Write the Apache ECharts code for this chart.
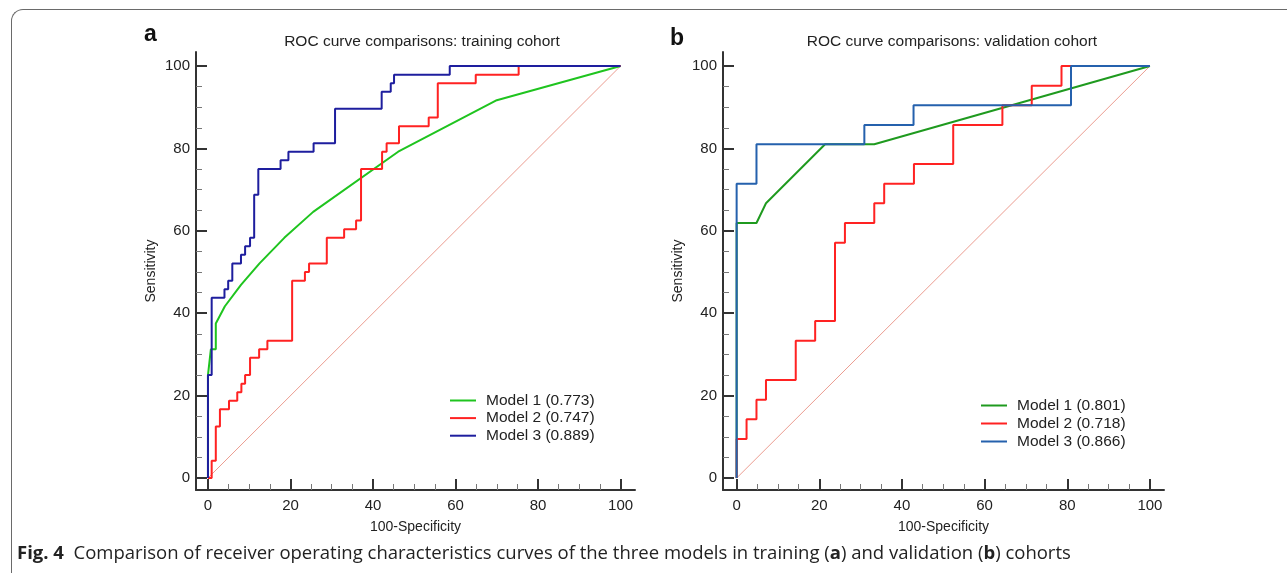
<!DOCTYPE html>
<html>
<head>
<meta charset="utf-8">
<script src="https://cdn.jsdelivr.net/npm/echarts@6/dist/echarts.min.js"></script>
<style>
  html, body { margin: 0; padding: 0; background: #fff; }
  #frame {
    position: absolute; left: 11px; top: 9px; width: 1320px; height: 620px;
    border-left: 1.5px solid #6a6a6a; border-top: 1.5px solid #6a6a6a;
    border-top-left-radius: 12px;
  }
  #chart { position: absolute; left: 0; top: 0; width: 1287px; height: 573px; }
  #caption {
    position: absolute; left: 17px; top: 539px; white-space: nowrap;
    font-family: "Open Sans", "Noto Sans", sans-serif; font-size: 18.5px; color: #222;
  }
</style>
</head>
<body>
<div id="frame"></div>
<div id="chart"></div>
<div id="caption"><b>Fig. 4</b>&nbsp; Comparison of receiver operating characteristics curves of the three models in training (<b>a</b>) and validation (<b>b</b>) cohorts</div>
<script>
// 刻度
const majorTicks = [0, 20, 40, 60, 80, 100];
const minorTicks = [5, 10, 15, 25, 30, 35, 45, 50, 55, 65, 70, 75, 85, 90, 95];
const diagX = [0, 100];
const diagY = [0, 100];

// 训练集 (a)
const trainNames = ["Model 1 (0.773)", "Model 2 (0.747)", "Model 3 (0.889)"];
const trainM1X = [0, 0, 0.7, 1.9, 1.9, 4.1, 8.0, 12.5, 18.5, 25.5, 46.1, 70.0, 100];
const trainM1Y = [0, 25, 31.25, 31.25, 37.5, 41.7, 46.9, 52.1, 58.3, 64.6, 79.2, 91.7, 100];
const trainM2X = [0, 0.9, 1.9, 2.9, 5.1, 7.1, 8.1, 9.0, 10.2, 12.4, 14.4, 20.4, 23.5, 24.5, 28.8, 33.0, 35.9, 37.1, 42.2, 43.3, 46.3, 53.5, 55.7, 64.9, 75.3, 100];
const trainM2Y = [0, 4.2, 12.5, 16.7, 18.75, 20.8, 22.9, 25, 29.2, 31.25, 33.3, 47.9, 50, 52.1, 58.3, 60.4, 62.5, 75, 79.2, 81.25, 85.4, 87.5, 95.8, 97.9, 100, 100];
const trainM3X = [0, 0, 0.9, 4.0, 4.9, 5.9, 8.0, 9.0, 10.2, 11.2, 12.2, 17.6, 19.5, 25.6, 30.8, 42.1, 44.3, 45.1, 58.6, 100];
const trainM3Y = [0, 25, 43.75, 45.8, 47.9, 52.1, 54.2, 56.25, 58.3, 68.75, 75, 77.1, 79.2, 81.25, 89.6, 93.75, 95.8, 97.9, 100, 100];

// 验证集 (b)
const validNames = ["Model 1 (0.801)", "Model 2 (0.718)", "Model 3 (0.866)"];
const validM1X = [0, 0, 4.8, 7.1, 21.4, 33.3, 100];
const validM1Y = [0, 61.9, 61.9, 66.7, 81.0, 81.0, 100];
const validM2X = [0, 0, 2.4, 4.8, 7.1, 14.3, 19.0, 23.8, 26.2, 33.3, 35.7, 42.9, 52.4, 64.3, 71.4, 78.6, 100];
const validM2Y = [0, 9.5, 14.3, 19.0, 23.8, 33.3, 38.1, 57.1, 61.9, 66.7, 71.4, 76.2, 85.7, 90.5, 95.2, 100, 100];
const validM3X = [0, 0, 4.8, 30.9, 42.8, 80.9, 100];
const validM3Y = [0, 71.4, 81.0, 85.7, 90.5, 100, 100];

const FONT = "Liberation Sans, Arial, sans-serif";
const zip = (xs, ys) => xs.map((x, i) => [x, ys[i]]);

// 坐标轴：主刻度轴 + 次刻度轴
const makeAxes = (dim, gridIndex, min, max, name, nameGap) => {
  const isX = dim === "x";
  const major = {
    gridIndex, type: "value", min, max,
    position: isX ? "bottom" : "left",
    name, nameLocation: "middle", nameGap,
    nameTextStyle: { fontFamily: FONT, fontSize: 14, color: "#222" },
    axisLine: { show: true, onZero: false, lineStyle: { color: "#333", width: 2 } },
    axisTick: { show: true, inside: true, length: 11, customValues: majorTicks, lineStyle: { color: "#333", width: 2 } },
    axisLabel: { customValues: majorTicks, fontFamily: FONT, fontSize: 15, color: "#222", margin: isX ? 8 : 6 },
    splitLine: { show: false },
  };
  const minor = {
    gridIndex, type: "value", min, max,
    position: isX ? "bottom" : "left",
    axisLine: { show: false, onZero: false },
    axisTick: { show: true, inside: true, length: 6, customValues: minorTicks, lineStyle: { color: "#777", width: 1 } },
    axisLabel: { show: false },
    splitLine: { show: false },
  };
  return [major, minor];
};

const lineSeries = (name, data, color, xi, step) => ({
  name, type: "line", data, xAxisIndex: xi, yAxisIndex: xi,
  step: step ? "end" : false, symbol: "none", showSymbol: false,
  lineStyle: { color, width: 2 }, itemStyle: { color },
  z: 3,
});

const legendStyle = { fontFamily: FONT, fontSize: 15.5, color: "#222", lineHeight: 17, padding: [0, 0, 0, 5] };

const chart = echarts.init(document.getElementById("chart"));
const option = {
  animation: false,
  title: [
    { text: "a", left: 139, top: 18, textStyle: { fontFamily: FONT, fontSize: 23, fontWeight: "bold", color: "#111" } },
    { text: "ROC curve comparisons: training cohort", left: 417, top: 29, textAlign: "center", textStyle: { fontFamily: FONT, fontSize: 15.5, fontWeight: "normal", color: "#222" } },
    { text: "b", left: 665, top: 22, textStyle: { fontFamily: FONT, fontSize: 23, fontWeight: "bold", color: "#111" } },
    { text: "ROC curve comparisons: validation cohort", left: 947, top: 29, textAlign: "center", textStyle: { fontFamily: FONT, fontSize: 15.5, fontWeight: "normal", color: "#222" } },
  ],
  grid: [
    { left: 196, top: 52, width: 439, height: 438 },
    { left: 723, top: 52, width: 441, height: 438 },
  ],
  xAxis: [
    ...makeAxes("x", 0, -2.9, 103.5, "100-Specificity", 30),
    ...makeAxes("x", 1, -3.3, 103.4, "100-Specificity", 30),
  ],
  yAxis: [
    ...makeAxes("y", 0, -2.9, 103.4, "Sensitivity", 38),
    ...makeAxes("y", 1, -2.9, 103.4, "Sensitivity", 38),
  ],
  legend: [
    {
      data: trainNames, orient: "vertical", left: 445, top: 387,
      icon: "rect", itemWidth: 26, itemHeight: 2, itemGap: 0.6,
      textStyle: legendStyle,
    },
    {
      data: validNames, orient: "vertical", left: 976, top: 392,
      icon: "rect", itemWidth: 26, itemHeight: 2, itemGap: 1,
      textStyle: legendStyle,
    },
  ],
  series: [
    { name: "diagA", type: "line", data: zip(diagX, diagY), xAxisIndex: 0, yAxisIndex: 0, symbol: "none", lineStyle: { color: "#eb9c90", width: 1 }, z: 2 },
    lineSeries(trainNames[0], zip(trainM1X, trainM1Y), "#1fc41f", 0, false),
    lineSeries(trainNames[1], zip(trainM2X, trainM2Y), "#ff2222", 0, true),
    lineSeries(trainNames[2], zip(trainM3X, trainM3Y), "#1e1e9e", 0, true),
    { name: "diagB", type: "line", data: zip(diagX, diagY), xAxisIndex: 2, yAxisIndex: 2, symbol: "none", lineStyle: { color: "#eb9c90", width: 1 }, z: 2 },
    lineSeries(validNames[0], zip(validM1X, validM1Y), "#1f9a1f", 2, false),
    lineSeries(validNames[1], zip(validM2X, validM2Y), "#ff2222", 2, true),
    lineSeries(validNames[2], zip(validM3X, validM3Y), "#2561ad", 2, true),
  ],
};
chart.setOption(option);
</script>
</body>
</html>
